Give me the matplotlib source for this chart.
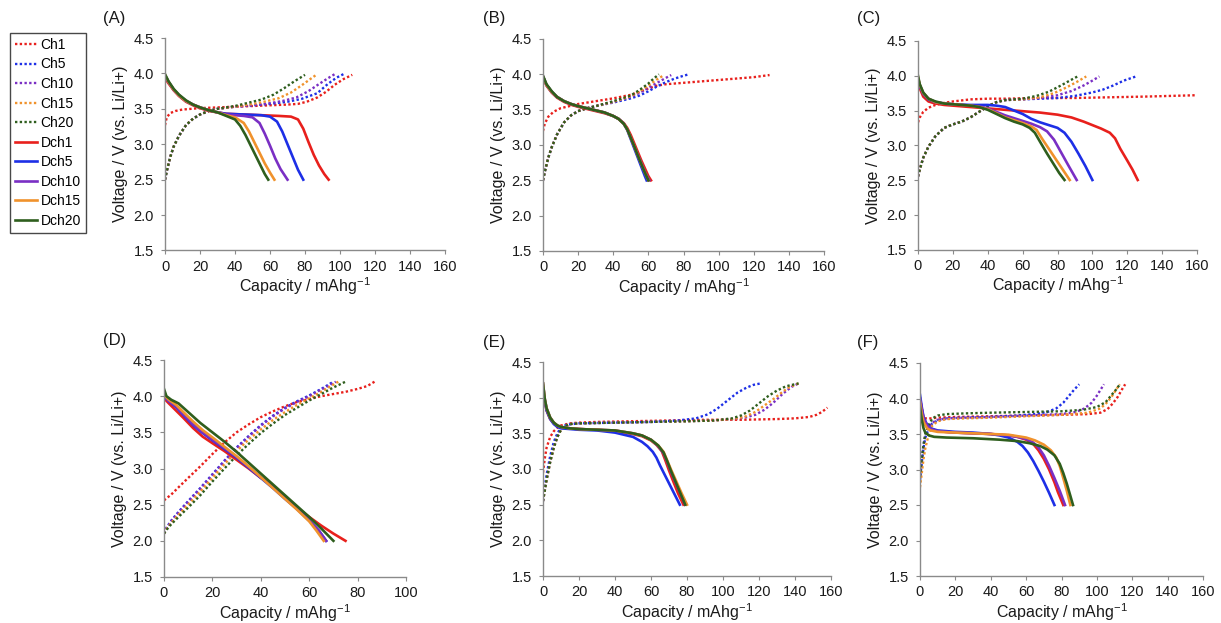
import matplotlib
matplotlib.use('Agg')
import matplotlib.pyplot as plt
from matplotlib.lines import Line2D

plt.rcParams['font.family'] = ['Liberation Sans', 'DejaVu Sans']
plt.rcParams['mathtext.fontset'] = 'custom'
plt.rcParams['mathtext.rm'] = 'Liberation Sans'

# colours for rates 1, 5, 10, 15, 20 C
colors = ['#e8201c', '#1d2fe6', '#7a2fc4', '#f0922c', '#2e5e1d']
rates = ['1', '5', '10', '15', '20']

# ---------------- (A) ----------------
# charge curves (dotted), one (capacity, voltage) pair per rate
A_CH = [
    ([0, 1, 3, 6, 10, 15, 20, 30, 40, 50, 60, 70, 76, 81, 87, 92, 97, 102, 107],
     [3.27, 3.38, 3.44, 3.47, 3.49, 3.5, 3.51, 3.52, 3.53, 3.54, 3.55, 3.56, 3.57, 3.6, 3.66, 3.74, 3.84, 3.92, 3.98]),
    ([0, 1, 3, 5, 8, 12, 16, 20, 25, 30, 40, 50, 60, 70, 78, 87, 93, 98, 102],
     [2.5, 2.62, 2.82, 2.97, 3.12, 3.27, 3.36, 3.42, 3.47, 3.5, 3.53, 3.55, 3.57, 3.6, 3.64, 3.72, 3.85, 3.94, 3.99]),
    ([0, 1, 3, 5, 8, 12, 16, 20, 25, 30, 40, 50, 60, 67, 75, 82, 88, 93, 97],
     [2.5, 2.62, 2.82, 2.97, 3.12, 3.27, 3.36, 3.42, 3.47, 3.5, 3.53, 3.55, 3.58, 3.61, 3.66, 3.75, 3.85, 3.93, 3.99]),
    ([0, 1, 3, 5, 8, 12, 16, 20, 25, 30, 40, 48, 55, 65, 72, 78, 83, 87],
     [2.5, 2.62, 2.82, 2.97, 3.12, 3.27, 3.36, 3.42, 3.47, 3.5, 3.53, 3.56, 3.59, 3.65, 3.73, 3.83, 3.92, 3.99]),
    ([0, 1, 3, 5, 8, 12, 16, 20, 25, 30, 40, 45, 50, 55, 62, 68, 74, 80],
     [2.5, 2.62, 2.82, 2.97, 3.12, 3.27, 3.36, 3.42, 3.47, 3.5, 3.54, 3.57, 3.6, 3.63, 3.7, 3.79, 3.89, 3.98]),
]
# discharge curves (solid)
A_DCH = [
    ([0, 2, 5, 8, 12, 16, 20, 25, 30, 35, 45, 55, 65, 72, 76, 79, 82, 85, 88, 91, 93.5],
     [3.93, 3.86, 3.76, 3.68, 3.6, 3.55, 3.51, 3.47, 3.45, 3.43, 3.42, 3.41, 3.4, 3.39, 3.35, 3.22, 3.03, 2.85, 2.7, 2.58, 2.5]),
    ([0, 2, 5, 8, 12, 16, 20, 25, 30, 35, 45, 55, 60, 64, 67, 70, 73, 76, 79],
     [3.97, 3.88, 3.77, 3.69, 3.61, 3.56, 3.52, 3.48, 3.45, 3.43, 3.42, 3.41, 3.39, 3.32, 3.18, 3.0, 2.82, 2.64, 2.5]),
    ([0, 2, 5, 8, 12, 16, 20, 25, 30, 35, 45, 50, 54, 57, 60, 63, 66, 70],
     [3.97, 3.88, 3.77, 3.69, 3.61, 3.56, 3.52, 3.48, 3.45, 3.42, 3.4, 3.38, 3.3, 3.15, 2.98, 2.8, 2.65, 2.5]),
    ([0, 2, 5, 8, 12, 16, 20, 25, 30, 35, 40, 45, 48, 51, 54, 57, 60, 62.5],
     [3.98, 3.88, 3.77, 3.69, 3.61, 3.56, 3.52, 3.48, 3.45, 3.41, 3.38, 3.3, 3.18, 3.03, 2.88, 2.73, 2.6, 2.5]),
    ([0, 2, 5, 8, 12, 16, 20, 25, 30, 35, 40, 43, 46, 49, 52, 55, 57, 59],
     [3.99, 3.89, 3.78, 3.7, 3.62, 3.56, 3.52, 3.48, 3.45, 3.4, 3.35, 3.26, 3.13, 2.98, 2.83, 2.68, 2.58, 2.5]),
]

# ---------------- (B) ----------------
B_CH = [
    ([0, 1, 3, 6, 10, 15, 20, 30, 40, 50, 55, 60, 65, 70, 80, 90, 100, 110, 120, 129],
     [3.2, 3.3, 3.4, 3.47, 3.52, 3.55, 3.58, 3.62, 3.66, 3.71, 3.75, 3.8, 3.84, 3.86, 3.88, 3.9, 3.92, 3.94, 3.96, 3.99]),
    ([0, 1, 3, 5, 8, 12, 16, 20, 25, 30, 40, 50, 55, 60, 65, 70, 75, 80, 83],
     [2.5, 2.62, 2.82, 2.97, 3.15, 3.32, 3.42, 3.48, 3.52, 3.55, 3.6, 3.66, 3.7, 3.76, 3.83, 3.89, 3.94, 3.98, 4.0]),
    ([0, 1, 3, 5, 8, 12, 16, 20, 25, 30, 40, 50, 55, 60, 65, 70, 73],
     [2.5, 2.62, 2.82, 2.97, 3.15, 3.32, 3.42, 3.48, 3.52, 3.55, 3.61, 3.68, 3.74, 3.81, 3.88, 3.95, 3.99]),
    ([0, 1, 3, 5, 8, 12, 16, 20, 25, 30, 40, 50, 55, 60, 65, 69],
     [2.5, 2.62, 2.82, 2.97, 3.15, 3.32, 3.42, 3.48, 3.52, 3.55, 3.61, 3.69, 3.76, 3.84, 3.93, 3.99]),
    ([0, 1, 3, 5, 8, 12, 16, 20, 25, 30, 40, 50, 55, 60, 63, 66],
     [2.5, 2.62, 2.82, 2.97, 3.15, 3.32, 3.42, 3.48, 3.52, 3.55, 3.62, 3.7, 3.78, 3.87, 3.94, 4.0]),
]
B_DCH = [
    ([0, 2, 5, 8, 12, 16, 20, 25, 30, 35, 40, 43, 46, 48, 50, 52, 54, 56, 58, 60, 61.5],
     [3.95, 3.84, 3.74, 3.67, 3.61, 3.57, 3.54, 3.51, 3.48, 3.45, 3.41, 3.37, 3.31, 3.24, 3.14, 3.02, 2.9, 2.78, 2.67, 2.56, 2.5]),
    ([0, 2, 5, 8, 12, 16, 20, 25, 30, 35, 40, 43, 46, 48, 50, 52, 54, 56, 58, 59],
     [3.97, 3.85, 3.75, 3.68, 3.62, 3.58, 3.55, 3.52, 3.49, 3.46, 3.41, 3.37, 3.3, 3.21, 3.08, 2.95, 2.82, 2.69, 2.56, 2.5]),
    ([0, 2, 5, 8, 12, 16, 20, 25, 30, 35, 40, 43, 46, 48, 50, 52, 54, 56, 58, 60.5],
     [3.97, 3.85, 3.75, 3.68, 3.62, 3.58, 3.55, 3.52, 3.49, 3.46, 3.41, 3.37, 3.3, 3.22, 3.1, 2.98, 2.86, 2.74, 2.62, 2.5]),
    ([0, 2, 5, 8, 12, 16, 20, 25, 30, 35, 40, 43, 46, 48, 50, 52, 54, 56, 58, 60],
     [3.97, 3.85, 3.75, 3.68, 3.62, 3.58, 3.55, 3.52, 3.49, 3.46, 3.41, 3.37, 3.3, 3.22, 3.1, 2.98, 2.85, 2.73, 2.61, 2.5]),
    ([0, 2, 5, 8, 12, 16, 20, 25, 30, 35, 40, 43, 46, 48, 50, 52, 54, 56, 58, 60],
     [3.98, 3.86, 3.76, 3.68, 3.62, 3.58, 3.55, 3.52, 3.49, 3.46, 3.41, 3.37, 3.3, 3.22, 3.1, 2.98, 2.85, 2.73, 2.61, 2.5]),
]

# ---------------- (C) ----------------
C_CH = [
    ([0, 1, 3, 6, 10, 15, 20, 30, 40, 50, 70, 90, 110, 130, 145, 160],
     [3.33, 3.4, 3.48, 3.54, 3.58, 3.61, 3.63, 3.66, 3.67, 3.67, 3.68, 3.68, 3.69, 3.7, 3.71, 3.72]),
    ([0, 1, 3, 6, 10, 15, 20, 25, 30, 35, 40, 45, 50, 60, 70, 80, 90, 100, 106, 112, 118, 125],
     [2.55, 2.65, 2.82, 2.98, 3.13, 3.25, 3.3, 3.34, 3.4, 3.48, 3.56, 3.62, 3.65, 3.66, 3.67, 3.68, 3.71, 3.76, 3.8, 3.86, 3.93, 3.99]),
    ([0, 1, 3, 6, 10, 15, 20, 25, 30, 35, 40, 45, 50, 60, 70, 80, 88, 95, 100, 104],
     [2.55, 2.65, 2.82, 2.98, 3.13, 3.25, 3.3, 3.34, 3.4, 3.48, 3.56, 3.62, 3.65, 3.66, 3.68, 3.72, 3.78, 3.86, 3.93, 3.99]),
    ([0, 1, 3, 6, 10, 15, 20, 25, 30, 35, 40, 45, 50, 60, 70, 78, 85, 91, 96.5],
     [2.55, 2.65, 2.82, 2.98, 3.13, 3.25, 3.3, 3.34, 3.4, 3.48, 3.56, 3.62, 3.65, 3.66, 3.69, 3.75, 3.83, 3.91, 3.99]),
    ([0, 1, 3, 6, 10, 15, 20, 25, 30, 35, 40, 45, 50, 60, 68, 75, 82, 87, 91.5],
     [2.55, 2.65, 2.82, 2.98, 3.13, 3.25, 3.3, 3.34, 3.4, 3.48, 3.56, 3.62, 3.65, 3.67, 3.71, 3.77, 3.86, 3.93, 3.99]),
]
C_DCH = [
    ([0, 1, 3, 6, 10, 15, 20, 30, 40, 50, 60, 70, 80, 88, 95, 100, 105, 110, 113, 116, 120, 123, 126],
     [3.92, 3.82, 3.7, 3.63, 3.6, 3.58, 3.57, 3.55, 3.53, 3.51, 3.49, 3.47, 3.44, 3.4, 3.34, 3.29, 3.24, 3.18, 3.1, 2.95, 2.78, 2.65, 2.5]),
    ([0, 1, 3, 6, 10, 15, 20, 30, 40, 45, 50, 55, 60, 65, 70, 75, 80, 84, 88, 92, 96, 100],
     [3.95, 3.85, 3.74, 3.66, 3.62, 3.6, 3.59, 3.58, 3.58, 3.57, 3.55, 3.5, 3.45, 3.38, 3.33, 3.29, 3.25, 3.18, 3.05, 2.88, 2.7, 2.5]),
    ([0, 1, 3, 6, 10, 15, 20, 30, 35, 40, 45, 50, 55, 60, 65, 70, 74, 78, 82, 86, 91],
     [3.97, 3.87, 3.75, 3.67, 3.62, 3.6, 3.59, 3.57, 3.56, 3.53, 3.48, 3.43, 3.39, 3.35, 3.31, 3.26, 3.2, 3.08, 2.9, 2.72, 2.5]),
    ([0, 1, 3, 6, 10, 15, 20, 30, 35, 40, 45, 50, 55, 60, 65, 68, 71, 75, 79, 83, 87],
     [3.98, 3.87, 3.75, 3.67, 3.62, 3.6, 3.59, 3.57, 3.55, 3.52, 3.46, 3.4, 3.36, 3.32, 3.27, 3.22, 3.1, 2.95, 2.8, 2.65, 2.5]),
    ([0, 1, 3, 6, 10, 15, 20, 30, 35, 40, 45, 50, 55, 60, 64, 67, 70, 74, 78, 81, 84],
     [4.0, 3.88, 3.76, 3.67, 3.63, 3.6, 3.59, 3.57, 3.55, 3.51, 3.45, 3.39, 3.34, 3.3, 3.25, 3.18, 3.05, 2.88, 2.72, 2.6, 2.5]),
]

# ---------------- (D) ----------------
D_CH = [
    ([0, 3, 6, 10, 15, 20, 25, 30, 35, 40, 45, 50, 55, 60, 65, 70, 75, 80, 84, 87],
     [2.56, 2.64, 2.74, 2.87, 3.03, 3.2, 3.36, 3.5, 3.61, 3.71, 3.79, 3.86, 3.92, 3.96, 4.0, 4.03, 4.06, 4.1, 4.14, 4.2]),
    ([0, 1, 3, 6, 10, 15, 20, 25, 30, 35, 40, 45, 50, 55, 60, 65, 70],
     [2.1, 2.18, 2.28, 2.4, 2.55, 2.73, 2.92, 3.11, 3.29, 3.45, 3.6, 3.73, 3.84, 3.93, 4.01, 4.1, 4.2]),
    ([0, 1, 3, 6, 10, 15, 20, 25, 30, 35, 40, 45, 50, 55, 60, 65, 71],
     [2.1, 2.17, 2.27, 2.39, 2.54, 2.72, 2.91, 3.1, 3.28, 3.44, 3.59, 3.72, 3.83, 3.92, 4.0, 4.09, 4.2]),
    ([0, 1, 3, 6, 10, 15, 20, 25, 30, 35, 40, 45, 50, 55, 60, 65, 68, 72],
     [2.1, 2.16, 2.25, 2.36, 2.5, 2.68, 2.87, 3.06, 3.24, 3.4, 3.54, 3.67, 3.78, 3.88, 3.97, 4.06, 4.12, 4.2]),
    ([0, 1, 3, 6, 10, 15, 20, 25, 30, 35, 40, 45, 50, 55, 60, 65, 70, 75],
     [2.1, 2.15, 2.23, 2.33, 2.46, 2.63, 2.82, 3.0, 3.18, 3.34, 3.49, 3.62, 3.74, 3.84, 3.94, 4.03, 4.12, 4.2]),
]
D_DCH = [
    ([0, 2, 5, 8, 12, 16, 20, 25, 30, 35, 40, 42, 45, 50, 55, 60, 65, 70, 75],
     [3.97, 3.9, 3.8, 3.7, 3.56, 3.44, 3.35, 3.24, 3.12, 3.0, 2.87, 2.84, 2.74, 2.6, 2.46, 2.33, 2.21, 2.1, 2.0]),
    ([0, 2, 5, 8, 12, 16, 20, 25, 30, 35, 40, 45, 50, 55, 60, 64, 67],
     [4.0, 3.93, 3.85, 3.74, 3.6, 3.49, 3.39, 3.27, 3.15, 3.01, 2.87, 2.73, 2.58, 2.44, 2.28, 2.14, 2.0]),
    ([0, 2, 5, 8, 12, 16, 20, 25, 30, 35, 40, 45, 50, 55, 60, 64, 67],
     [4.0, 3.93, 3.86, 3.75, 3.61, 3.5, 3.4, 3.28, 3.16, 3.02, 2.88, 2.74, 2.59, 2.44, 2.28, 2.14, 2.0]),
    ([0, 2, 5, 8, 12, 16, 20, 25, 30, 35, 40, 45, 50, 55, 60, 63, 66],
     [4.02, 3.95, 3.88, 3.78, 3.65, 3.53, 3.43, 3.3, 3.17, 3.03, 2.88, 2.73, 2.58, 2.43, 2.27, 2.14, 2.0]),
    ([0, 1, 3, 6, 10, 15, 20, 25, 30, 35, 40, 45, 50, 55, 60, 65, 70],
     [4.1, 4.0, 3.95, 3.9, 3.78, 3.63, 3.5, 3.37, 3.23, 3.08, 2.93, 2.78, 2.63, 2.48, 2.33, 2.17, 2.0]),
]

# ---------------- (E) ----------------
E_CH = [
    ([0, 1, 2, 4, 6, 8, 10, 15, 20, 30, 50, 70, 90, 110, 130, 140, 148, 152, 155, 158],
     [2.95, 3.15, 3.3, 3.45, 3.53, 3.58, 3.61, 3.64, 3.65, 3.66, 3.67, 3.68, 3.69, 3.69, 3.7, 3.71, 3.73, 3.76, 3.8, 3.86]),
    ([0, 1, 2, 4, 6, 8, 10, 13, 20, 40, 60, 75, 85, 92, 97, 103, 108, 113, 117, 121],
     [2.55, 2.75, 2.92, 3.18, 3.38, 3.5, 3.58, 3.62, 3.64, 3.65, 3.66, 3.68, 3.71, 3.77, 3.85, 3.97, 4.07, 4.14, 4.18, 4.2]),
    ([0, 1, 2, 4, 6, 8, 10, 12, 15, 20, 40, 60, 80, 95, 105, 112, 118, 123, 128, 133, 138, 142],
     [2.55, 2.7, 2.85, 3.1, 3.3, 3.45, 3.55, 3.6, 3.63, 3.64, 3.65, 3.66, 3.67, 3.68, 3.7, 3.72, 3.76, 3.83, 3.93, 4.05, 4.15, 4.2]),
    ([0, 1, 2, 4, 6, 8, 10, 12, 15, 20, 40, 60, 80, 95, 105, 112, 118, 123, 128, 133, 137, 142],
     [2.55, 2.7, 2.85, 3.1, 3.3, 3.45, 3.55, 3.6, 3.63, 3.64, 3.65, 3.66, 3.67, 3.68, 3.7, 3.73, 3.8, 3.89, 3.98, 4.08, 4.15, 4.2]),
    ([0, 1, 2, 4, 6, 8, 10, 12, 15, 20, 40, 60, 80, 95, 105, 110, 115, 120, 125, 130, 135, 142],
     [2.55, 2.7, 2.85, 3.1, 3.3, 3.45, 3.55, 3.6, 3.63, 3.64, 3.65, 3.66, 3.67, 3.68, 3.71, 3.75, 3.82, 3.92, 4.02, 4.1, 4.16, 4.2]),
]
E_DCH = [
    ([0, 1, 2, 4, 6, 8, 10, 15, 20, 30, 40, 50, 55, 60, 63, 66, 68, 70, 72, 75, 78],
     [4.1, 3.95, 3.82, 3.7, 3.64, 3.6, 3.58, 3.57, 3.56, 3.55, 3.53, 3.49, 3.46, 3.4, 3.34, 3.25, 3.12, 2.98, 2.85, 2.66, 2.5]),
    ([0, 1, 2, 4, 6, 8, 10, 15, 20, 30, 40, 45, 50, 55, 58, 61, 63, 65, 67, 70, 73, 76],
     [4.1, 3.95, 3.82, 3.7, 3.63, 3.59, 3.57, 3.56, 3.55, 3.54, 3.51, 3.48, 3.45, 3.38, 3.32, 3.24, 3.16, 3.05, 2.95, 2.8, 2.65, 2.5]),
    ([0, 1, 2, 4, 6, 8, 10, 15, 20, 30, 40, 50, 55, 60, 64, 67, 69, 71, 73, 76, 79],
     [4.2, 3.98, 3.85, 3.72, 3.65, 3.61, 3.59, 3.57, 3.56, 3.55, 3.54, 3.5, 3.47, 3.41, 3.32, 3.22, 3.1, 2.97, 2.85, 2.68, 2.5]),
    ([0, 1, 2, 4, 6, 8, 10, 15, 20, 30, 40, 50, 55, 60, 64, 67, 69, 71, 74, 77, 80],
     [4.2, 3.98, 3.85, 3.72, 3.65, 3.61, 3.59, 3.57, 3.56, 3.55, 3.54, 3.5, 3.47, 3.41, 3.33, 3.24, 3.12, 3.0, 2.83, 2.66, 2.5]),
    ([0, 1, 2, 4, 6, 8, 10, 15, 20, 30, 40, 50, 55, 60, 64, 67, 69, 71, 73, 76, 79],
     [4.2, 3.98, 3.85, 3.72, 3.65, 3.61, 3.59, 3.57, 3.56, 3.55, 3.54, 3.5, 3.47, 3.41, 3.33, 3.23, 3.11, 2.98, 2.86, 2.68, 2.5]),
]

# ---------------- (F) ----------------
F_CH = [
    ([0, 1, 3, 6, 10, 20, 40, 60, 80, 95, 102, 106, 109, 112, 114, 116],
     [3.7, 3.71, 3.72, 3.72, 3.73, 3.74, 3.75, 3.76, 3.77, 3.78, 3.8, 3.85, 3.93, 4.03, 4.12, 4.2]),
    ([0, 1, 2, 3, 5, 7, 10, 15, 25, 40, 55, 65, 72, 77, 81, 84, 87, 90],
     [2.85, 3.1, 3.3, 3.45, 3.58, 3.65, 3.69, 3.72, 3.73, 3.74, 3.76, 3.78, 3.81, 3.86, 3.94, 4.03, 4.12, 4.2]),
    ([0, 1, 2, 3, 5, 7, 10, 15, 25, 40, 60, 80, 88, 93, 97, 100, 102, 104],
     [2.9, 3.15, 3.35, 3.48, 3.6, 3.66, 3.7, 3.72, 3.73, 3.74, 3.76, 3.78, 3.81, 3.86, 3.94, 4.04, 4.12, 4.2]),
    ([0, 1, 2, 3, 5, 7, 10, 15, 25, 40, 60, 80, 95, 102, 106, 109, 111, 113],
     [2.75, 2.95, 3.15, 3.3, 3.5, 3.62, 3.68, 3.71, 3.72, 3.73, 3.75, 3.77, 3.8, 3.86, 3.95, 4.05, 4.13, 4.2]),
    ([0, 1, 2, 3, 5, 7, 10, 15, 25, 40, 60, 80, 92, 100, 105, 108, 111, 113],
     [2.9, 3.15, 3.35, 3.5, 3.63, 3.72, 3.76, 3.78, 3.79, 3.8, 3.81, 3.82, 3.84, 3.88, 3.95, 4.04, 4.13, 4.2]),
]
F_DCH = [
    ([0, 1, 2, 4, 6, 10, 20, 30, 40, 50, 55, 60, 64, 67, 70, 73, 76, 78, 81],
     [4.0, 3.85, 3.72, 3.62, 3.57, 3.54, 3.52, 3.51, 3.5, 3.48, 3.46, 3.42, 3.36, 3.27, 3.15, 3.0, 2.82, 2.68, 2.5]),
    ([0, 1, 2, 4, 6, 10, 20, 30, 40, 45, 50, 55, 58, 61, 64, 67, 70, 73, 76],
     [4.05, 3.88, 3.74, 3.63, 3.58, 3.55, 3.53, 3.52, 3.5, 3.48, 3.45, 3.39, 3.33, 3.24, 3.12, 2.98, 2.83, 2.67, 2.5]),
    ([0, 1, 2, 4, 6, 10, 20, 30, 40, 50, 55, 60, 64, 67, 70, 73, 76, 79, 82],
     [4.0, 3.85, 3.72, 3.62, 3.57, 3.54, 3.52, 3.51, 3.5, 3.48, 3.46, 3.43, 3.38, 3.31, 3.2, 3.05, 2.88, 2.7, 2.5]),
    ([0, 1, 2, 4, 6, 10, 20, 30, 40, 50, 60, 65, 70, 74, 77, 79, 81, 83, 85],
     [3.95, 3.78, 3.67, 3.58, 3.55, 3.53, 3.52, 3.51, 3.5, 3.49, 3.45, 3.41, 3.35, 3.27, 3.17, 3.05, 2.88, 2.7, 2.5]),
    ([0, 1, 2, 3, 5, 8, 15, 30, 45, 55, 62, 68, 72, 76, 79, 81, 83, 85, 86.5],
     [3.88, 3.7, 3.58, 3.52, 3.48, 3.46, 3.45, 3.44, 3.42, 3.4, 3.37, 3.33, 3.28, 3.2, 3.08, 2.95, 2.8, 2.63, 2.5]),
]

panels = [
    ('(A)', A_CH, A_DCH, 160, (165, 38, 445, 250.5), (103, 18)),
    ('(B)', B_CH, B_DCH, 160, (543, 39, 824, 251), (483, 18)),
    ('(C)', C_CH, C_DCH, 160, (918, 41, 1197, 249.5), (857, 18)),
    ('(D)', D_CH, D_DCH, 100, (164, 360, 406, 577), (103, 340)),
    ('(E)', E_CH, E_DCH, 160, (543, 362, 831, 576), (483, 342)),
    ('(F)', F_CH, F_DCH, 160, (920, 363, 1203, 576), (857, 342)),
]

W, H = 1221, 623
fig = plt.figure(figsize=(W / 100, H / 100), dpi=100)
axcol = '#8a8a8a'
txtcol = '#1a1a1a'

for name, ch, dch, xmax, (x0, y0, x1, y1), (lx, ly) in panels:
    ax = fig.add_axes([x0 / W, 1 - y1 / H, (x1 - x0) / W, (y1 - y0) / H])
    for i in range(5):
        ax.plot(ch[i][0], ch[i][1], color=colors[i], lw=1.7, ls=(0, (1, 1)))
    for i in range(5):
        ax.plot(dch[i][0], dch[i][1], color=colors[i], lw=1.9)
    ax.set_xlim(0, xmax)
    ax.set_ylim(1.5, 4.5)
    ax.set_xticks(range(0, xmax + 1, 20))
    yt = [1.5, 2.0, 2.5, 3.0, 3.5, 4.0, 4.5]
    ax.set_yticks(yt)
    ax.set_yticklabels(['%.1f' % t for t in yt])
    for s in ['top', 'right']:
        ax.spines[s].set_visible(False)
    for s in ['left', 'bottom']:
        ax.spines[s].set_color(axcol)
        ax.spines[s].set_linewidth(1.0)
    ax.tick_params(colors=axcol, labelcolor=txtcol, labelsize=10.5, length=3, width=0.8)
    ax.tick_params(axis='x', pad=3.5)
    ax.tick_params(axis='y', pad=5)
    ax.set_xlabel('Capacity / mAhg$^{\\mathregular{-1}}$', fontsize=11.5, labelpad=1.5, color=txtcol)
    ax.set_ylabel('Voltage / V (vs. Li/Li+)', fontsize=11.5, labelpad=4, color=txtcol)
    fig.text(lx / W, 1 - ly / H, name, fontsize=12, va='center', ha='left', color=txtcol)

handles = [Line2D([], [], color=c, lw=1.7, ls=(0, (1, 1))) for c in colors]
handles += [Line2D([], [], color=c, lw=1.9) for c in colors]
labels = ['Ch' + r for r in rates] + ['Dch' + r for r in rates]
leg = fig.legend(handles, labels, loc='upper left', bbox_to_anchor=(10 / W, 1 - 33 / H),
                 fontsize=10, frameon=True, fancybox=False, handlelength=1.6,
                 handletextpad=0.25, labelspacing=0.4, borderpad=0.35, borderaxespad=0)
leg.get_frame().set_edgecolor(txtcol)
leg.get_frame().set_linewidth(1.0)

fig.savefig('out.png', dpi=100)
